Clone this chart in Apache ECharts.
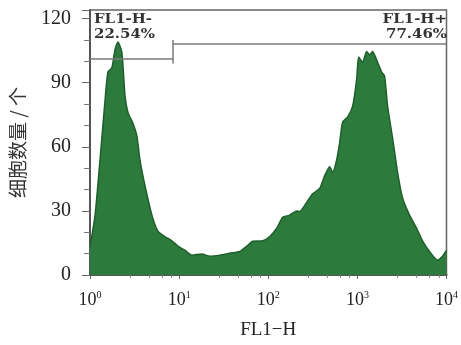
<!DOCTYPE html>
<html>
<head>
<meta charset="utf-8">
<script src="https://cdn.jsdelivr.net/npm/echarts@6/dist/echarts.min.js"></script>
<style>
  html, body { margin: 0; padding: 0; background: #fff; }
  #chart { width: 461px; height: 345px; }
</style>
</head>
<body>
<div id="chart"></div>
<script>
// FL1-H channel values (log scale) and cell counts
const fl1h = [
  1.0, 1.14, 1.29, 1.47, 1.59, 1.76, 1.91, 2.06, 2.28, 2.47, 2.67, 3.03, 3.36, 3.63,
  4.13, 4.95, 5.78, 6.92, 8.29, 9.68, 11.6, 13.9, 18.0, 22.1, 28.6, 37.0, 47.9, 57.4,
  67.0, 86.7, 104, 125, 145, 174, 208, 225, 270, 315, 378, 430, 489, 528, 586, 633,
  684, 778, 885, 982, 1033, 1145, 1270, 1372, 1482, 1686, 1871, 2020, 2183, 2483,
  2825, 3213, 3849, 4613, 5383, 6451, 7925, 9019, 10000
];
const cellCount = [
  13, 28, 53, 81, 95, 97, 105.6, 109, 104, 84, 76, 71, 65, 54,
  42, 28, 20.5, 18, 16, 13.5, 11.6, 9.3, 9.8, 8.8, 9.3, 10.2, 11, 13.5,
  15.8, 16, 18, 22, 27, 28, 30, 29.7, 34, 38, 40.5, 46.5, 50.7, 48, 54, 62,
  71.6, 74, 79, 91.6, 102, 99.5, 104.6, 103, 104.6, 99.5, 95, 93, 79, 64,
  48, 36, 28, 22, 16, 11, 7, 8.8, 11.6
];
const yTicks = [0, 30, 60, 90, 120];

// gates: FL1-H- covers 10^0 .. ~8.5, FL1-H+ covers ~8.5 .. 10^4
const gateSplit = 8.5;
const gateNegY = 101;
const gatePosY = 108;
const gateLabels = ['FL1-H-\n22.54%', 'FL1-H+\n77.46%'];

const chart = echarts.init(document.getElementById('chart'), null, { renderer: 'canvas' });

const serif = '"Liberation Serif", "DejaVu Serif", serif';
const gateFont = 'bold 13px "DejaVu Serif", serif';
const gateLine = { color: '#7a7a7a', width: 1.5, type: 'solid' };

const option = {
  animation: false,
  backgroundColor: '#fff',
  grid: {
    left: 90,
    right: 10,
    top: 10,
    bottom: 68,
    show: true,
    borderColor: '#666',
    borderWidth: 1.5,
  },
  xAxis: {
    type: 'log',
    logBase: 10,
    min: 1,
    max: 10000,
    name: 'FL1\u2212H',
    nameLocation: 'middle',
    nameGap: 46,
    nameTextStyle: { fontFamily: serif, fontSize: 19, color: '#222' },
    axisLine: { lineStyle: { color: '#555', width: 2 } },
    axisTick: { show: true, length: 4, lineStyle: { color: '#666' } },
    minorTick: { show: true, splitNumber: 5, length: 3, lineStyle: { color: '#888' } },
    splitLine: { show: false },
    axisLabel: {
      margin: 15,
      color: '#222',
      formatter: (v) => '{b|10}{s|' + Math.round(Math.log10(v)) + '}',
      rich: {
        b: { fontFamily: serif, fontSize: 18, color: '#222', lineHeight: 20 },
        s: { fontFamily: serif, fontSize: 10, color: '#222', verticalAlign: 'top', lineHeight: 20 },
      },
    },
  },
  yAxis: {
    type: 'value',
    min: 0,
    max: 124,
    interval: 30,
    name: '细胞数量 / 个',
    nameLocation: 'middle',
    nameGap: 63,
    nameTextStyle: { fontFamily: '"Noto Sans CJK SC", sans-serif', fontSize: 19, color: '#333' },
    axisLine: { show: true, lineStyle: { color: '#555', width: 2 } },
    axisTick: { show: true, length: 8, lineStyle: { color: '#666' } },
    minorTick: { show: true, splitNumber: 3, length: 6, lineStyle: { color: '#777' } },
    splitLine: { show: false },
    axisLabel: {
      showMaxLabel: false,
      margin: 19,
      fontFamily: serif,
      fontSize: 20,
      color: '#222',
      formatter: (v) => (yTicks.indexOf(v) >= 0 ? String(v) : ''),
    },
  },
  series: [
    {
      type: 'line',
      data: fl1h.map((x, i) => [x, cellCount[i]]),
      showSymbol: false,
      smooth: 0.2,
      lineStyle: { color: '#1f5f2c', width: 1.5 },
      areaStyle: { color: '#2c7b3c', opacity: 1 },
      z: 2,
      markLine: {
        silent: true,
        symbol: 'none',
        label: { show: false },
        lineStyle: gateLine,
        data: [
          [{ coord: [1, gateNegY] }, { coord: [gateSplit, gateNegY] }],
          [{ coord: [gateSplit, gatePosY] }, { coord: [10000, gatePosY] }],
          [{ coord: [gateSplit, 99] }, { coord: [gateSplit, 110] }],
        ],
      },
    },
  ],
  graphic: [
    {
      type: 'text',
      x: 94,
      y: 12,
      scaleX: 1.15,
      style: {
        text: gateLabels[0],
        font: gateFont,
        fill: '#333',
        lineHeight: 15,
      },
    },
    {
      type: 'text',
      x: 447,
      y: 12,
      scaleX: 1.15,
      style: {
        text: gateLabels[1],
        font: gateFont,
        fill: '#333',
        align: 'right',
        lineHeight: 15,
      },
    },
  ],
};

chart.setOption(option);
</script>
</body>
</html>
